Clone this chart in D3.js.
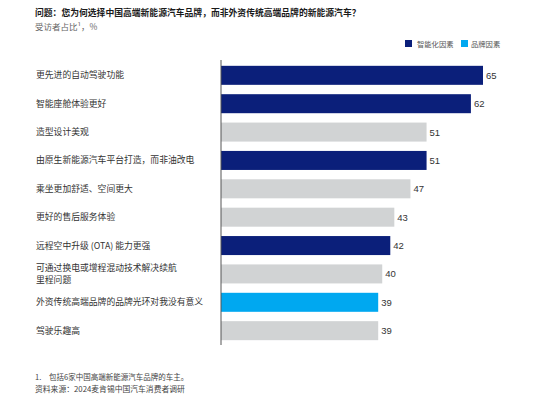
<!DOCTYPE html>
<html>
<head>
<meta charset="utf-8">
<script src="https://d3js.org/d3.v7.min.js"></script>
<style>
  body { margin: 0; background: #fff; }
  text { font-family: "Noto Sans CJK SC", "Noto Sans", sans-serif; }
</style>
</head>
<body>
<svg id="chart" width="554" height="398"></svg>
<script>
// data
const labels = [
  ["更先进的自动驾驶功能"],
  ["智能座舱体验更好"],
  ["造型设计美观"],
  ["由原生新能源汽车平台打造，而非油改电"],
  ["乘坐更加舒适、空间更大"],
  ["更好的售后服务体验"],
  ["远程空中升级 (OTA) 能力更强"],
  ["可通过换电或增程混动技术解决续航", "里程问题"],
  ["外资传统高端品牌的品牌光环对我没有意义"],
  ["驾驶乐趣高"]
];
const values = [65, 62, 51, 51, 47, 43, 42, 40, 39, 39];
const groups = ["smart", "smart", "other", "smart", "other", "other", "smart", "other", "brand", "other"];
const legendNames = ["智能化因素", "品牌因素"];

const color = d3.scaleOrdinal()
  .domain(["smart", "brand", "other"])
  .range(["#0b1f7a", "#00a8f0", "#d1d3d4"]);

const svg = d3.select("#chart");

// title
svg.append("text").attr("x", 35).attr("y", 16)
  .attr("font-size", 8.8).attr("font-weight", "bold").attr("fill", "#1a1a1a")
  .text("问题：您为何选择中国高端新能源汽车品牌，而非外资传统高端品牌的新能源汽车？");
svg.append("text").attr("x", 35).attr("y", 30)
  .attr("font-size", 8.5).attr("fill", "#666")
  .text("受访者占比¹，%");

// legend
const lg = svg.append("g").attr("transform", "translate(405,40)");
lg.append("rect").attr("width", 7).attr("height", 7).attr("fill", color("smart"));
lg.append("text").attr("x", 12).attr("y", 6.5).attr("font-size", 7.3).attr("fill", "#555").text(legendNames[0]);
lg.append("rect").attr("x", 56).attr("width", 7).attr("height", 7).attr("fill", color("brand"));
lg.append("text").attr("x", 66).attr("y", 6.5).attr("font-size", 7.3).attr("fill", "#555").text(legendNames[1]);

// scales
const x = d3.scaleLinear().domain([0, 65]).range([221, 483]);
const y = d3.scaleBand().domain(d3.range(values.length)).range([61, 345]).paddingInner(0.33).paddingOuter(0.17);

svg.selectAll(".bar").data(values).join("rect")
  .attr("class", "bar")
  .attr("x", x(0))
  .attr("y", (d, i) => y(i))
  .attr("width", d => x(d) - x(0))
  .attr("height", y.bandwidth())
  .attr("fill", (d, i) => color(groups[i]));

svg.selectAll(".val").data(values).join("text")
  .attr("class", "val")
  .attr("x", d => x(d) + 3)
  .attr("y", (d, i) => y(i) + y.bandwidth() / 2 + 3.5)
  .attr("font-size", 9.5).attr("fill", "#333")
  .style("font-family", "Arial, 'Liberation Sans', sans-serif")
  .text(d => d);

// category labels
const lineH = 12.5;
const lab = svg.selectAll(".lab").data(labels).join("text")
  .attr("class", "lab")
  .attr("x", 36)
  .attr("y", (d, i) => y(i) + y.bandwidth() / 2 + 3 - (d.length - 1) * lineH / 2)
  .attr("font-size", 8.8).attr("fill", "#333");
lab.selectAll("tspan").data(d => d).join("tspan")
  .attr("x", 36)
  .attr("dy", (d, j) => j === 0 ? 0 : lineH)
  .text(d => d);

// axis line
svg.append("line")
  .attr("x1", x(0)).attr("x2", x(0))
  .attr("y1", 60).attr("y2", 345)
  .attr("stroke", "#555").attr("stroke-width", 1);

// footnotes
svg.append("text").attr("x", 35).attr("y", 380).attr("font-size", 7.5).attr("fill", "#444")
  .text("1.");
svg.append("text").attr("x", 49).attr("y", 380).attr("font-size", 7.5).attr("fill", "#444")
  .text("包括6家中国高端新能源汽车品牌的车主。");
svg.append("text").attr("x", 35).attr("y", 392).attr("font-size", 7.8).attr("fill", "#444")
  .text("资料来源：2024麦肯锡中国汽车消费者调研");
</script>
</body>
</html>
